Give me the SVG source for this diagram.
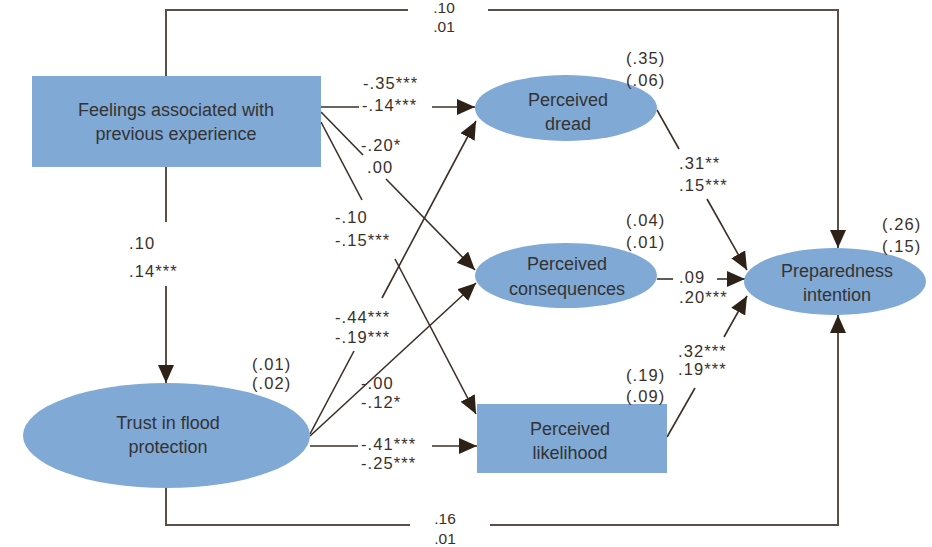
<svg xmlns="http://www.w3.org/2000/svg" width="932" height="547" viewBox="0 0 932 547">
<defs>
<marker id="ah" markerUnits="userSpaceOnUse" markerWidth="19" markerHeight="17" refX="18" refY="8" orient="auto">
<path d="M0,0 L18,8 L0,16 z" fill="#2e2218"/>
</marker>
<style>
.node{fill:#81a9d6}
.nt{font-family:"Liberation Sans",Arial,sans-serif;font-size:18px;fill:#333;text-anchor:middle}
.lb{font-family:"Liberation Sans",Arial,sans-serif;font-size:16.5px;fill:#3a302a;letter-spacing:1.1px}
.lbc{font-family:"Liberation Sans",Arial,sans-serif;font-size:15.5px;fill:#3a302a;text-anchor:middle}
.ln{stroke:#3b2f27;stroke-width:1.6;fill:none}
.fr{stroke:#5a4e46;stroke-width:2;fill:none}
</style>
</defs>
<rect width="932" height="547" fill="#fff"/>
<g id="connectors">
<polyline class="fr" points="166,76 166,10 408,10"/>
<polyline class="fr" points="488,10 838,10 838,248" marker-end="url(#ah)"/>
<line class="fr" x1="166" y1="166" x2="166" y2="222"/>
<line class="fr" x1="166" y1="286" x2="166" y2="383" marker-end="url(#ah)"/>
<polyline class="fr" points="166,487 166,525 410,525"/>
<polyline class="fr" points="490,525 838,525 838,315" marker-end="url(#ah)"/>
<line class="ln" x1="321" y1="107" x2="359" y2="107"/>
<line class="ln" x1="432" y1="107" x2="475" y2="107" marker-end="url(#ah)"/>
<line class="ln" x1="321" y1="112" x2="363" y2="155"/>
<line class="ln" x1="386" y1="179" x2="475" y2="270" marker-end="url(#ah)"/>
<line class="ln" x1="321" y1="122" x2="362" y2="200"/>
<line class="ln" x1="395" y1="259" x2="476" y2="414" marker-end="url(#ah)"/>
<line class="ln" x1="310" y1="434" x2="354" y2="351"/>
<line class="ln" x1="382" y1="298" x2="476" y2="121" marker-end="url(#ah)"/>
<line class="ln" x1="310" y1="436" x2="476" y2="283" marker-end="url(#ah)"/>
<line class="ln" x1="310" y1="446" x2="358" y2="446"/>
<line class="ln" x1="432" y1="446" x2="477" y2="446" marker-end="url(#ah)"/>
<line class="ln" x1="657" y1="110" x2="679" y2="149"/>
<line class="ln" x1="707" y1="199" x2="747" y2="270" marker-end="url(#ah)"/>
<line class="ln" x1="657" y1="279" x2="673" y2="279"/>
<line class="ln" x1="717" y1="279" x2="745" y2="279" marker-end="url(#ah)"/>
<line class="ln" x1="667" y1="437" x2="695" y2="388"/>
<line class="ln" x1="724" y1="337" x2="747" y2="296" marker-end="url(#ah)"/>
</g>
<g id="feelings">
<rect class="node" x="32" y="76" width="289" height="91"/>
<text class="nt" x="176" y="116">Feelings associated with</text>
<text class="nt" x="176" y="140">previous experience</text>
</g>
<g id="trust">
<ellipse class="node" cx="166.5" cy="435.5" rx="143.5" ry="52.5"/>
<text class="nt" x="168" y="429">Trust in flood</text>
<text class="nt" x="168" y="453">protection</text>
</g>
<g id="dread">
<ellipse class="node" cx="566" cy="108" rx="91" ry="33"/>
<text class="nt" x="568" y="106">Perceived</text>
<text class="nt" x="568" y="130">dread</text>
</g>
<g id="consequences">
<ellipse class="node" cx="566" cy="275.5" rx="91" ry="32.5"/>
<text class="nt" x="567" y="270">Perceived</text>
<text class="nt" x="567" y="295">consequences</text>
</g>
<g id="likelihood">
<rect class="node" x="477" y="404" width="190" height="69"/>
<text class="nt" x="570" y="435">Perceived</text>
<text class="nt" x="570" y="459">likelihood</text>
</g>
<g id="preparedness">
<ellipse class="node" cx="835" cy="281.5" rx="91" ry="33.5"/>
<text class="nt" x="837" y="277">Preparedness</text>
<text class="nt" x="837" y="301">intention</text>
</g>
<g id="labels">
<text class="lbc" x="444" y="13">.10</text>
<text class="lbc" x="444" y="32">.01</text>
<text class="lbc" x="445" y="524">.16</text>
<text class="lbc" x="445" y="544">.01</text>
<text class="lb" x="363" y="89">-.35***</text>
<text class="lb" x="362" y="111">-.14***</text>
<text class="lb" x="361" y="151">-.20*</text>
<text class="lb" x="367" y="173">.00</text>
<text class="lb" x="335" y="223">-.10</text>
<text class="lb" x="335" y="246">-.15***</text>
<text class="lb" x="129" y="249">.10</text>
<text class="lb" x="129" y="277">.14***</text>
<text class="lb" x="252" y="370">(.01)</text>
<text class="lb" x="252" y="389">(.02)</text>
<text class="lb" x="335" y="323">-.44***</text>
<text class="lb" x="335" y="343">-.19***</text>
<text class="lb" x="361" y="389">-.00</text>
<text class="lb" x="361" y="408">-.12*</text>
<text class="lb" x="361" y="450">-.41***</text>
<text class="lb" x="361" y="469">-.25***</text>
<text class="lb" x="626" y="64">(.35)</text>
<text class="lb" x="626" y="86">(.06)</text>
<text class="lb" x="679" y="169">.31**</text>
<text class="lb" x="679" y="191">.15***</text>
<text class="lb" x="626" y="226">(.04)</text>
<text class="lb" x="626" y="248">(.01)</text>
<text class="lb" x="679" y="283">.09</text>
<text class="lb" x="679" y="303">.20***</text>
<text class="lb" x="882" y="230">(.26)</text>
<text class="lb" x="882" y="252">(.15)</text>
<text class="lb" x="678" y="357">.32***</text>
<text class="lb" x="678" y="375">.19***</text>
<text class="lb" x="626" y="381">(.19)</text>
<text class="lb" x="626" y="402">(.09)</text>
</g>
</svg>
